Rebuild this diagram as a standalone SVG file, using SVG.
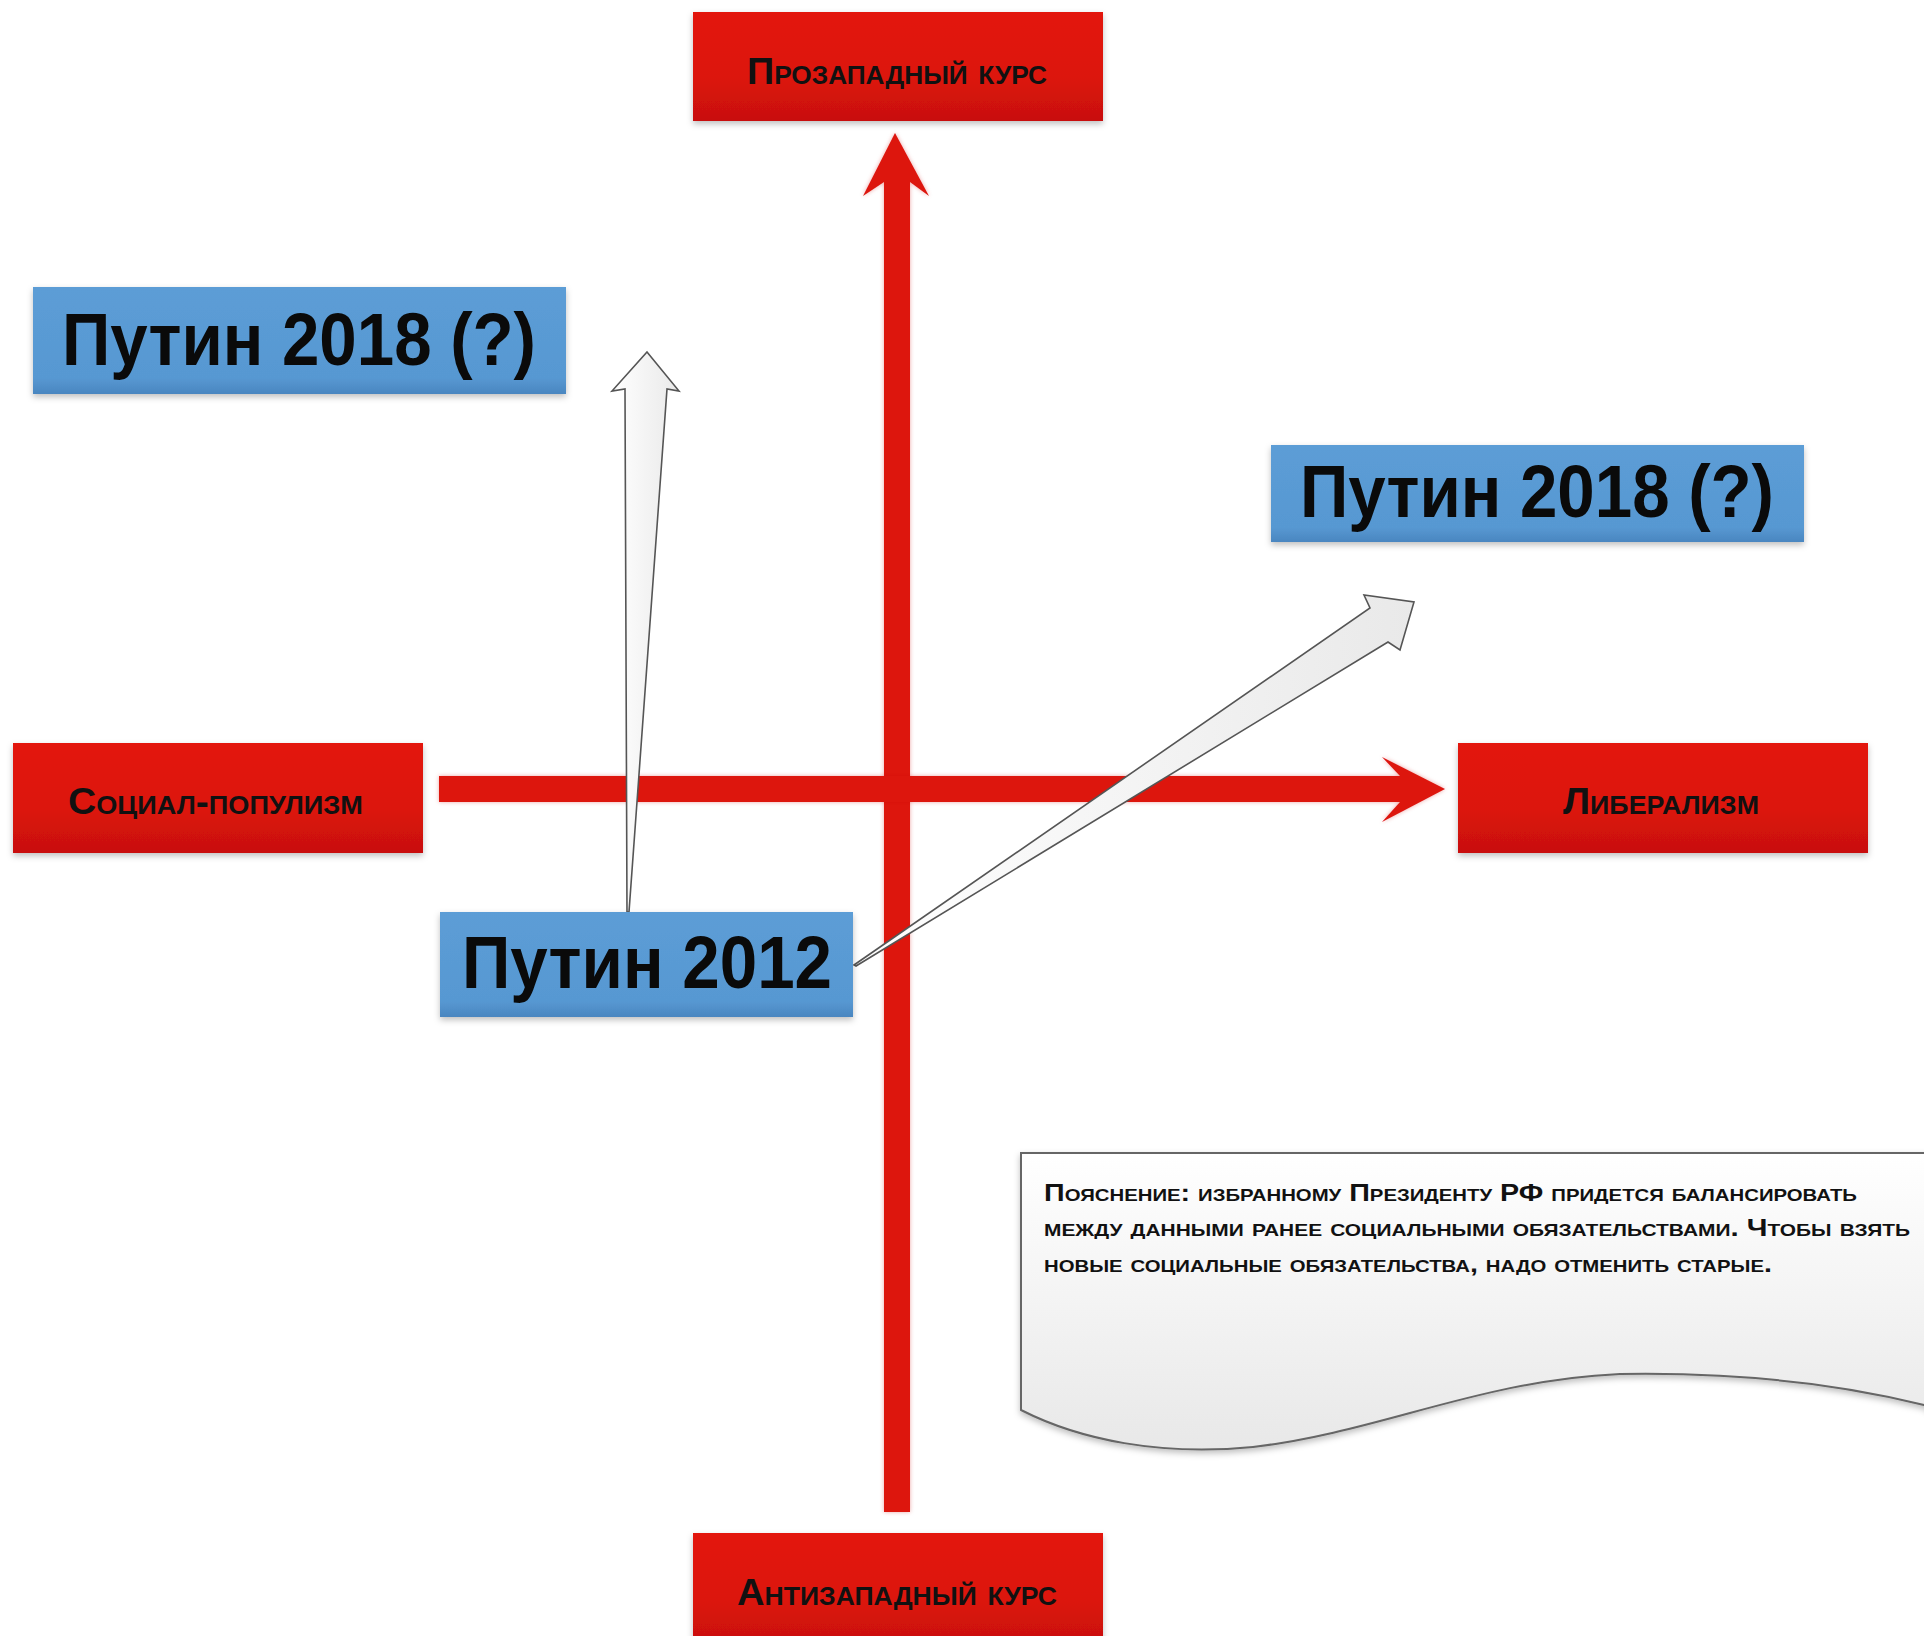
<svg xmlns="http://www.w3.org/2000/svg" width="1924" height="1636" viewBox="0 0 1924 1636">
  <defs>
    <linearGradient id="redGrad" x1="0" y1="0" x2="0" y2="1">
      <stop offset="0" stop-color="#e3170f"/>
      <stop offset="0.6" stop-color="#dc140e"/>
      <stop offset="1" stop-color="#c8100b"/>
    </linearGradient>
    <linearGradient id="blueGrad" x1="0" y1="0" x2="0" y2="1">
      <stop offset="0" stop-color="#5c9dd6"/>
      <stop offset="0.85" stop-color="#5798d2"/>
      <stop offset="1" stop-color="#4a86c0"/>
    </linearGradient>
    <linearGradient id="whiteGrad" x1="0" y1="0" x2="1" y2="0">
      <stop offset="0" stop-color="#ffffff"/>
      <stop offset="1" stop-color="#e9e9e9"/>
    </linearGradient>
    <linearGradient id="noteGrad" x1="0" y1="0" x2="0" y2="1">
      <stop offset="0" stop-color="#ffffff"/>
      <stop offset="1" stop-color="#e8e8e8"/>
    </linearGradient>
    <filter id="shadow" x="-5%" y="-10%" width="110%" height="130%">
      <feDropShadow dx="0" dy="3" stdDeviation="3" flood-color="#000" flood-opacity="0.25"/>
    </filter>
    <filter id="glow" x="-5%" y="-5%" width="110%" height="110%">
      <feDropShadow dx="0" dy="0" stdDeviation="2" flood-color="#c00" flood-opacity="0.35"/>
    </filter>
  </defs>
  <style>
    .red { fill: url(#redGrad); filter: url(#shadow); }
    .blue { fill: url(#blueGrad); filter: url(#shadow); }
    .axis { fill: #dd140e; filter: url(#glow); }
    .warrow { fill: url(#whiteGrad); stroke: #555; stroke-width: 1.6; stroke-linejoin: miter; }
    .lbl { font-family: "Liberation Sans", Arial, sans-serif; font-weight: bold; font-size: 36px; font-variant: small-caps; fill: #111; }
    .big { font-family: "Liberation Sans", Arial, sans-serif; font-weight: bold; font-size: 75px; fill: #0a0a0a; }
    .note { font-family: "Liberation Sans", Arial, sans-serif; font-weight: bold; font-size: 24px; font-variant: small-caps; fill: #111; }
  </style>
  <rect width="1924" height="1636" fill="#ffffff"/>

  <g id="connectors">
    <polygon id="axis-vertical" class="axis" points="895,133 929,196 910,182 910,1512 884,1512 884,182 863,196"/>
    <polygon id="axis-horizontal" class="axis" points="439,776 1400,776 1382,757 1445,789 1382,822 1400,802 439,802"/>
    <polygon id="arrow-2012-to-left2018" class="warrow" points="647,352 679,391 667,389 629,912 627,912 625,389 612,391"/>
    <polygon id="arrow-2012-to-right2018" class="warrow" points="854,965 1370,608 1364,595 1414,602 1400,650 1388,642 856,966"/>
  </g>

  <g id="node-prozapad">
    <rect class="red" x="693" y="12" width="410" height="109"/>
    <text class="lbl" x="747" y="84" textLength="300" lengthAdjust="spacingAndGlyphs">Прозападный курс</text>
  </g>

  <g id="node-antizapad">
    <rect class="red" x="693" y="1533" width="410" height="112"/>
    <text class="lbl" x="737" y="1605" textLength="320" lengthAdjust="spacingAndGlyphs">Антизападный курс</text>
  </g>

  <g id="node-socpop">
    <rect class="red" x="13" y="743" width="410" height="110"/>
    <text class="lbl" x="68" y="814" textLength="295" lengthAdjust="spacingAndGlyphs">Социал-популизм</text>
  </g>

  <g id="node-liberal">
    <rect class="red" x="1458" y="743" width="410" height="110"/>
    <text class="lbl" x="1563" y="814" textLength="196" lengthAdjust="spacingAndGlyphs">Либерализм</text>
  </g>

  <g id="node-putin2018-left">
    <rect class="blue" x="33" y="287" width="533" height="107"/>
    <text class="big" x="62" y="365" textLength="474" lengthAdjust="spacingAndGlyphs">Путин 2018 (?)</text>
  </g>

  <g id="node-putin2018-right">
    <rect class="blue" x="1271" y="445" width="533" height="97"/>
    <text class="big" x="1300" y="517" textLength="474" lengthAdjust="spacingAndGlyphs">Путин 2018 (?)</text>
  </g>

  <g id="node-putin2012">
    <rect class="blue" x="440" y="912" width="413" height="105"/>
    <text class="big" x="462" y="988" textLength="370" lengthAdjust="spacingAndGlyphs">Путин 2012</text>
  </g>

  <g id="node-note">
    <path d="M1021,1153 L1935,1153 L1935,1412 L1924,1405 C1840,1384 1740,1372 1620,1374 C1480,1380 1380,1432 1253,1447 C1160,1456 1080,1440 1021,1410 Z" fill="url(#noteGrad)" stroke="#666" stroke-width="2" filter="url(#shadow)"/>
    <text class="note" x="1044" y="1201" textLength="813" lengthAdjust="spacingAndGlyphs">Пояснение: избранному Президенту РФ придется балансировать</text>
    <text class="note" x="1044" y="1236" textLength="866" lengthAdjust="spacingAndGlyphs">между данными ранее социальными обязательствами. Чтобы взять</text>
    <text class="note" x="1044" y="1272" textLength="728" lengthAdjust="spacingAndGlyphs">новые социальные обязательства, надо отменить старые.</text>
  </g>
</svg>
